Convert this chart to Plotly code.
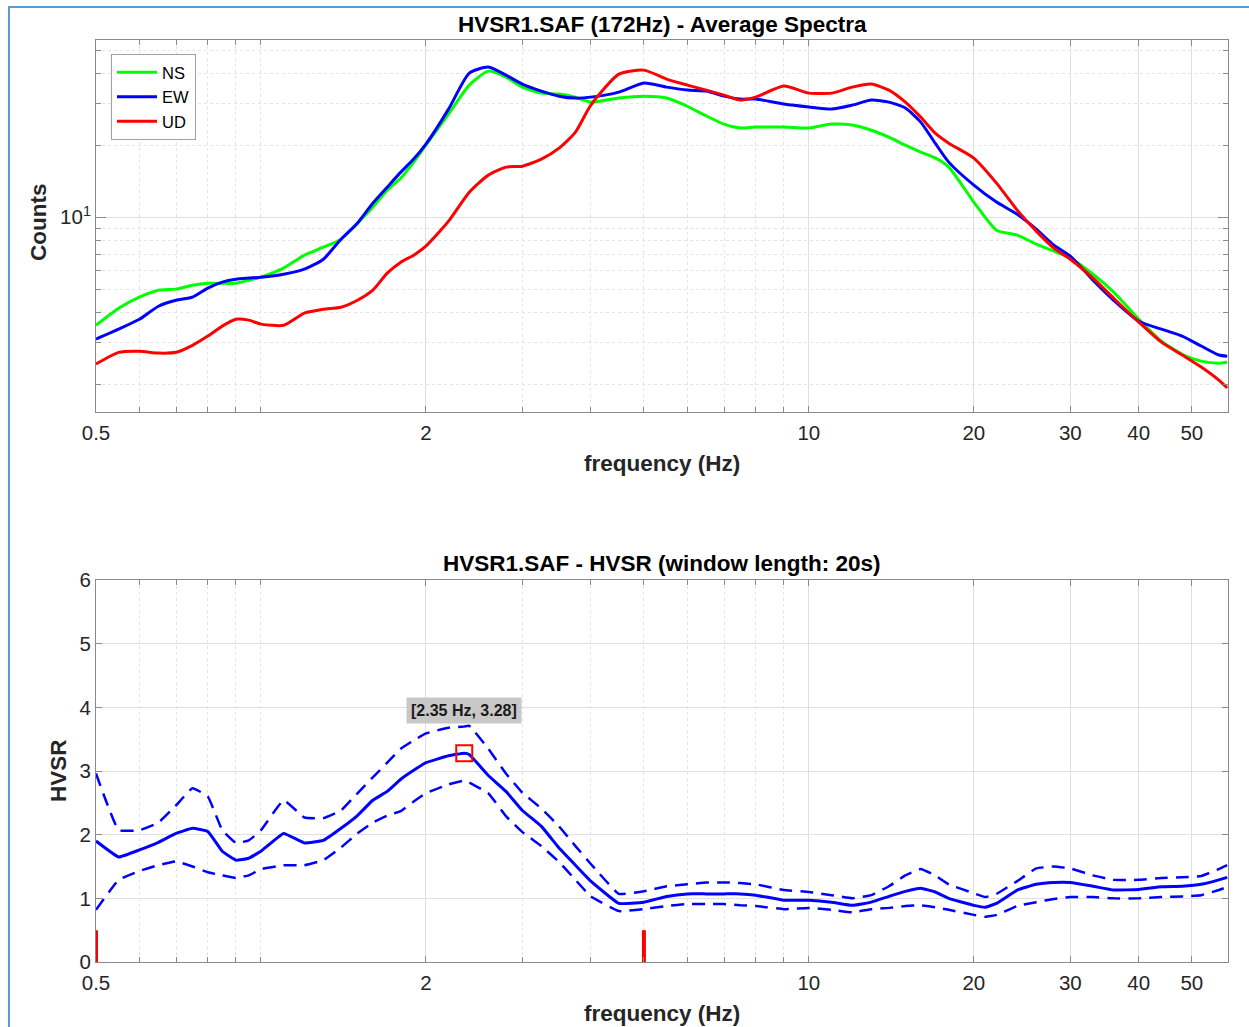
import numpy as np
import plotly.graph_objects as go

# ---------------- data ----------------
# Average spectra (counts) on a shared frequency grid (Hz)
FREQ_SPEC = [0.5, 0.55, 0.6, 0.65, 0.7, 0.75, 0.8, 0.85, 0.9, 0.95,
             1.0, 1.1, 1.2, 1.3, 1.4, 1.5, 1.6, 1.7, 1.8, 1.9,
             2.0, 2.2, 2.4, 2.6, 2.8, 3.0, 3.25, 3.5, 3.75, 4.0, 4.5,
             5.0, 5.5, 6.0, 6.5, 7.0, 7.5, 8.0, 9.0,
             10, 11, 12, 13, 14, 15, 16, 17, 18,
             20, 22, 24, 26, 28, 30, 33, 36, 40, 44, 48, 52, 56, 58]

NS = [3.53, 4.16, 4.63, 4.95, 5.00, 5.19, 5.29, 5.29, 5.29, 5.45,
      5.61, 6.12, 6.93, 7.49, 8.09, 9.44, 11.01, 12.97, 14.56, 16.99,
      20.01, 26.98, 35.67, 40.82, 38.53, 34.99, 33.02, 32.71, 31.77, 30.29, 31.5,
      32.07, 31.5, 29.1, 26.5, 24.5, 23.6, 23.8, 23.8,
      23.6, 24.5, 24.3, 23.1, 21.6, 20.0, 18.7, 17.7, 16.2,
      11.56, 8.82, 8.41, 7.71, 7.21, 6.74, 5.77, 4.86, 3.74, 3.03, 2.67, 2.50, 2.45, 2.47]

EW = [3.09, 3.40, 3.74, 4.24, 4.49, 4.63, 5.05, 5.35, 5.50, 5.56,
      5.61, 5.77, 6.06, 6.67, 8.09, 9.44, 11.44, 13.35, 15.43, 17.49,
      20.20, 28.31, 40.04, 42.43, 39.28, 36.02, 33.67, 32.07, 31.47, 31.77, 33.34,
      36.37, 34.99, 34.00, 33.67, 32.07, 31.17, 31.17, 29.71,
      28.87, 28.31, 29.42, 30.87, 30.29, 28.59, 24.97, 20.40, 16.99,
      13.61, 11.56, 10.29, 8.91, 7.63, 6.87, 5.45, 4.49, 3.67, 3.40, 3.18, 2.89, 2.65, 2.62]

UD = [2.43, 2.72, 2.75, 2.70, 2.72, 2.91, 3.18, 3.50, 3.74, 3.71,
      3.57, 3.53, 3.97, 4.12, 4.20, 4.49, 4.95, 5.83, 6.48, 6.93,
      7.56, 9.62, 12.72, 14.99, 16.19, 16.34, 17.49, 19.44, 22.68, 29.42, 39.66,
      41.21, 37.79, 35.67, 34.00, 32.38, 30.87, 31.77, 35.33,
      33.02, 33.02, 34.99, 36.02, 34.00, 30.29, 26.21, 22.46, 20.40,
      17.66, 13.88, 10.70, 8.74, 7.42, 6.67, 5.56, 4.58, 3.64, 3.00, 2.65, 2.36, 2.08, 1.93]

# H/V ratio: mean curve and +/- one standard deviation
FREQ_HV = [0.5, 0.55, 0.6, 0.65, 0.7, 0.75, 0.8, 0.85, 0.9, 0.95,
           1.0, 1.1, 1.2, 1.3, 1.4, 1.5, 1.6, 1.7, 1.8, 1.9,
           2.0, 2.2, 2.35, 2.4, 2.6, 2.8, 3.0, 3.25, 3.5, 3.75, 4.0, 4.5,
           5.0, 5.5, 6.0, 6.5, 7.0, 7.5, 8.0, 9.0,
           10, 11, 12, 13, 14, 15, 16, 17, 18,
           20, 21, 22, 24, 26, 28, 30, 33, 36, 40, 44, 48, 52, 56, 58]

HV_MEAN = [1.90, 1.65, 1.76, 1.88, 2.02, 2.10, 2.05, 1.74, 1.60, 1.63,
           1.74, 2.02, 1.87, 1.91, 2.10, 2.30, 2.54, 2.68, 2.87, 3.01,
           3.13, 3.24, 3.28, 3.26, 2.93, 2.68, 2.38, 2.13, 1.79, 1.52, 1.27, 0.92,
           0.94, 1.03, 1.07, 1.07, 1.07, 1.07, 1.05, 0.97,
           0.97, 0.94, 0.89, 0.94, 1.03, 1.11, 1.16, 1.10, 1.00,
           0.89, 0.86, 0.92, 1.13, 1.22, 1.25, 1.25, 1.19, 1.13, 1.14, 1.18, 1.19, 1.22, 1.29, 1.33]

HV_UPPER = [2.96, 2.07, 2.07, 2.19, 2.46, 2.73, 2.60, 2.07, 1.87, 1.91,
            2.07, 2.54, 2.27, 2.26, 2.38, 2.65, 2.90, 3.13, 3.35, 3.48,
            3.59, 3.68, 3.70, 3.71, 3.35, 2.96, 2.66, 2.41, 2.13, 1.82, 1.54, 1.07,
            1.11, 1.19, 1.22, 1.25, 1.25, 1.24, 1.22, 1.13,
            1.10, 1.05, 1.00, 1.05, 1.19, 1.36, 1.46, 1.36, 1.22,
            1.08, 1.02, 1.07, 1.27, 1.47, 1.50, 1.47, 1.36, 1.29, 1.29, 1.32, 1.33, 1.35, 1.46, 1.52]

HV_LOWER = [0.82, 1.29, 1.43, 1.52, 1.58, 1.50, 1.41, 1.36, 1.32, 1.36,
            1.46, 1.52, 1.52, 1.60, 1.80, 2.02, 2.19, 2.30, 2.37, 2.52,
            2.65, 2.79, 2.85, 2.82, 2.65, 2.29, 2.04, 1.82, 1.57, 1.29, 1.03, 0.80,
            0.83, 0.88, 0.91, 0.91, 0.91, 0.89, 0.88, 0.83,
            0.85, 0.82, 0.78, 0.83, 0.85, 0.88, 0.89, 0.86, 0.82,
            0.74, 0.71, 0.74, 0.88, 0.94, 0.99, 1.02, 1.02, 1.00, 1.00, 1.02, 1.03, 1.05, 1.13, 1.18]

PEAK_FREQ = 2.35
PEAK_HV = 3.28
LIMIT_FREQS = [0.5, 5.0]
LIMIT_HEIGHT = 0.5

X_TICKS = [0.5, 2, 10, 20, 30, 40, 50]
X_MINOR = [0.6, 0.7, 0.8, 0.9, 1, 3, 4, 5, 6, 7, 8, 9]
Y_MINOR_TOP = [2, 3, 4, 5, 6, 7, 8, 9, 20, 30, 40, 50]
F_MAX = 58.2

# ---------------- styling ----------------
W, H = 1249, 1027
FONT = "Liberation Sans, Arial, sans-serif"
TICK_COLOR = "#262626"
AXIS_LINE = "#8a8a8a"
GRID = "#e0e0e0"
MINOR_GRID = "#e4e4e4"
TICK_SIZE = 20.5


def px_x(p):
    return p / W


def px_y(p):
    return 1 - p / H


fig = go.Figure()

for name, vals, col in [("NS", NS, "#00ff00"), ("EW", EW, "#0000ff"), ("UD", UD, "#ff0000")]:
    fig.add_trace(go.Scatter(x=FREQ_SPEC, y=vals, name=name, mode="lines",
                             line=dict(color=col, width=3, shape="spline", smoothing=0.6),
                             xaxis="x", yaxis="y"))

dash_style = "13px,8px"
fig.add_trace(go.Scatter(x=FREQ_HV, y=HV_UPPER, mode="lines", showlegend=False,
                         line=dict(color="#0000ff", width=2.5, dash=dash_style, shape="spline", smoothing=0.3),
                         xaxis="x2", yaxis="y2"))
fig.add_trace(go.Scatter(x=FREQ_HV, y=HV_LOWER, mode="lines", showlegend=False,
                         line=dict(color="#0000ff", width=2.5, dash=dash_style, shape="spline", smoothing=0.3),
                         xaxis="x2", yaxis="y2"))
fig.add_trace(go.Scatter(x=FREQ_HV, y=HV_MEAN, mode="lines", showlegend=False,
                         line=dict(color="#0000ff", width=3, shape="spline", smoothing=0.3),
                         xaxis="x2", yaxis="y2"))

# frequency-window limits
for f in LIMIT_FREQS:
    fig.add_trace(go.Scatter(x=[f, f], y=[0, LIMIT_HEIGHT], mode="lines", showlegend=False,
                             line=dict(color="#ff0000", width=4), xaxis="x2", yaxis="y2"))

# peak marker
fig.add_trace(go.Scatter(x=[PEAK_FREQ], y=[PEAK_HV], mode="markers", showlegend=False,
                         marker=dict(symbol="square-open", size=16, color="#ff0000",
                                     line=dict(width=2, color="#ff0000")),
                         xaxis="x2", yaxis="y2"))

x_dom = [px_x(96), px_x(1228)]
common_x = dict(
    type="log", range=[np.log10(0.5), np.log10(F_MAX)], domain=x_dom, automargin=False,
    tickmode="array", tickvals=X_TICKS, ticktext=[str(v) for v in X_TICKS],
    ticks="inside", ticklen=6, tickcolor=AXIS_LINE, showline=True, linecolor=AXIS_LINE,
    linewidth=1, mirror="allticks", showgrid=True, gridcolor=GRID, gridwidth=1,
    ticklabelstandoff=2,
    tickfont=dict(family=FONT, size=TICK_SIZE, color=TICK_COLOR), zeroline=False,
    minor=dict(tickmode="array", tickvals=X_MINOR, ticks="inside", ticklen=5,
               tickcolor=AXIS_LINE, showgrid=True, gridcolor=MINOR_GRID, griddash="dot"),
)

fig.update_layout(
    width=W, height=H, autosize=False,
    margin=dict(l=0, r=0, t=0, b=0, pad=0),
    paper_bgcolor="white", plot_bgcolor="white",
    font=dict(family=FONT, color=TICK_COLOR),
    xaxis=dict(common_x, anchor="y"),
    yaxis=dict(type="log", range=[0.185, 1.741], domain=[px_y(412), px_y(40)], anchor="x",
               automargin=False,
               tickmode="array", tickvals=[10], ticktext=["10<sup>1</sup>"],
               ticks="inside", ticklen=10, tickcolor=AXIS_LINE, showline=True, linecolor=AXIS_LINE,
               linewidth=1, mirror="allticks", showgrid=True, gridcolor=GRID,
               tickfont=dict(family=FONT, size=TICK_SIZE, color=TICK_COLOR), zeroline=False,
               minor=dict(tickmode="array", tickvals=Y_MINOR_TOP, ticks="inside", ticklen=5,
                          tickcolor=AXIS_LINE, showgrid=True, gridcolor=MINOR_GRID, griddash="dot")),
    xaxis2=dict(common_x, anchor="y2"),
    yaxis2=dict(range=[0, 6], domain=[px_y(962), px_y(580)], anchor="x2", automargin=False,
                tickmode="array", tickvals=[0, 1, 2, 3, 4, 5, 6],
                ticks="inside", ticklen=6, tickcolor=AXIS_LINE, showline=True, linecolor=AXIS_LINE,
                linewidth=1, mirror="allticks", showgrid=True, gridcolor=GRID,
                tickfont=dict(family=FONT, size=TICK_SIZE, color=TICK_COLOR), zeroline=False),
    legend=dict(x=px_x(111), y=px_y(54), xanchor="left", yanchor="top",
                bgcolor="white", bordercolor="#a0a0a0", borderwidth=1,
                font=dict(family=FONT, size=16.5, color="#000000"),
                tracegroupgap=0, itemwidth=40),
    showlegend=True,
)

title_font = dict(family=FONT, size=22.5, color="#000000")
label_font = dict(family=FONT, size=22.5, color="#262626")
ann = [
    dict(text="<b>HVSR1.SAF (172Hz) - Average Spectra</b>", x=px_x(662), y=px_y(24),
         xref="paper", yref="paper", showarrow=False, font=title_font, xanchor="center", yanchor="middle"),
    dict(text="<b>HVSR1.SAF - HVSR (window length: 20s)</b>", x=px_x(662), y=px_y(563),
         xref="paper", yref="paper", showarrow=False, font=title_font, xanchor="center", yanchor="middle"),
    dict(text="<b>frequency (Hz)</b>", x=px_x(662), y=px_y(463),
         xref="paper", yref="paper", showarrow=False, font=label_font, xanchor="center", yanchor="middle"),
    dict(text="<b>frequency (Hz)</b>", x=px_x(662), y=px_y(1013),
         xref="paper", yref="paper", showarrow=False, font=label_font, xanchor="center", yanchor="middle"),
    dict(text="<b>Counts</b>", x=px_x(38), y=px_y(222), textangle=-90,
         xref="paper", yref="paper", showarrow=False, font=label_font, xanchor="center", yanchor="middle"),
    dict(text="<b>HVSR</b>", x=px_x(58), y=px_y(771), textangle=-90,
         xref="paper", yref="paper", showarrow=False, font=label_font, xanchor="center", yanchor="middle"),
    dict(text="<b>[%.2f Hz, %.2f]</b>" % (PEAK_FREQ, PEAK_HV), x=np.log10(PEAK_FREQ), y=3.95,
         xref="x2", yref="y2", showarrow=False, bgcolor="#c8c8c8", borderpad=4,
         font=dict(family=FONT, size=16, color="#1a1a1a"), xanchor="center", yanchor="middle"),
]
fig.update_layout(annotations=ann)

# outer frame around the figure
fig.add_shape(type="rect", xref="paper", yref="paper",
              x0=px_x(9), y0=-0.02, x1=1.02, y1=px_y(7),
              line=dict(color="#5b9bd5", width=2), fillcolor="rgba(0,0,0,0)", layer="above")

fig.write_html("out.html")
